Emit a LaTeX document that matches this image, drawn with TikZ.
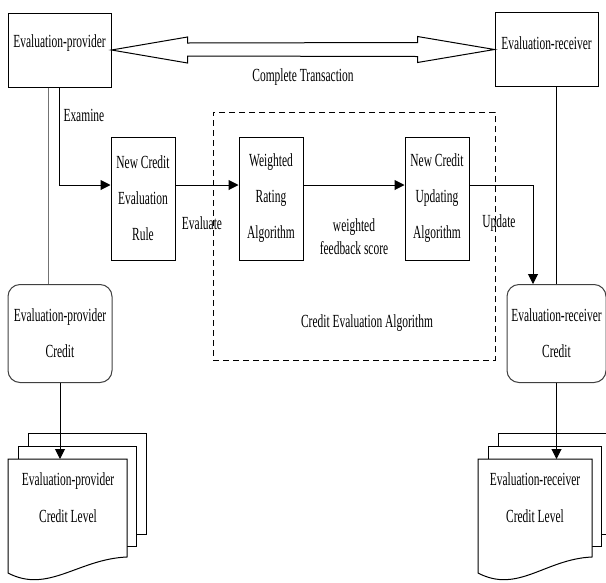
\documentclass[tikz,border=0pt]{standalone}
\usepackage{fontspec}
\setmainfont{Liberation Serif}[FakeStretch=0.62]
\usetikzlibrary{arrows.meta,positioning,calc}

% stacked pages: #1,#2 = top left corner of the front page, #3 = its width
\newcommand{\docstack}[3]{%
  \draw[fill=white] (#1+20,#2-26) rectangle ++(#3-1,101);
  \draw[fill=white] (#1+10,#2-13) rectangle ++(#3-1,100);
  \draw[fill=white] (#1,#2) -- ++(#3,0) -- ++(0,98)
    .. controls (#1+0.59*#3,#2+100) and (#1+40,#2+135) .. (#1,#2+114) -- cycle;
}

\begin{document}
\begin{tikzpicture}[x=1pt, y=-1pt, line width=1pt,
  font=\fontsize{18.5}{36}\selectfont,
  >={Triangle[length=10pt,width=10pt]},
  box/.style={draw, align=center, inner sep=0pt, minimum width=64pt, minimum height=123pt},
  party/.style={draw, inner sep=0pt, minimum width=103pt, minimum height=74pt},
  cred/.style={draw=black!75, rounded corners=12pt, align=center, inner sep=0pt, minimum height=98pt},
  lab/.style={inner sep=1pt, align=center},
  toptext/.style={label={[anchor=center, yshift=-31pt]north:#1}},
]
  \useasboundingbox (0,0) rectangle (606,582);

  \node[party, toptext=Evaluation-provider] (prov) at (59.5,50) {};
  \node[party, toptext=Evaluation-receiver] (rcv) at (546.5,49.5) {};

  % two-way transaction arrow
  \draw (prov.east) -- ++(76,-13) -- ++(0,6) -- ($(rcv.west)+(-77,-7)$) -- ++(0,-6)
    -- (rcv.west) -- ++(-77,13) -- ++(0,-6) -- ($(prov.east)+(76,6)$) -- ++(0,7) -- cycle;
  \node[lab] (trans) at (303,77) {Complete Transaction};

  \node[draw, dash pattern=on 6pt off 4pt, inner sep=0pt,
        minimum width=282pt, minimum height=248pt] (cea) at (354,236) {};
  \node[lab] (ceatext) at (367,323) {Credit Evaluation Algorithm};

  \node[box] (rule) at (143,198.5) {New Credit\\Evaluation\\Rule};
  \node[box] (wra) at (271,198.5) {Weighted\\Rating\\Algorithm};
  \node[box] (upd) at (437,198.5) {New Credit\\Updating\\Algorithm};

  \node[cred, minimum width=104pt] (pcred) at (60,333.5) {Evaluation-provider\\Credit};
  \node[cred, minimum width=99pt] (rcred) at (556.5,333.5) {Evaluation-receiver\\Credit};

  \docstack{8}{459}{119}
  \docstack{478}{459}{114}
  \node[lab, font=\fontsize{18.5}{37}\selectfont] (pdoc) at (68,497.5) {Evaluation-provider\\Credit Level};
  \node[lab, font=\fontsize{18.5}{37}\selectfont] (rdoc) at (535,497.5) {Evaluation-receiver\\Credit Level};

  \coordinate (mid) at (0,185);
  \coordinate (doctop) at (0,459);

  \draw[->] (prov.south) |- (rule.west |- mid);
  \node[lab, anchor=west] (exam) at (62,115) {Examine};
  \draw[->] (rule.east |- mid) -- (wra.west |- mid);
  \node[lab] (evl) at (202,223) {Evaluate};
  \draw[->] (wra.east |- mid) -- (upd.west |- mid);
  \node[lab, font=\fontsize{18.5}{23}\selectfont] (wfs) at (354,237) {weighted\\feedback score};
  \draw[->] (upd.east |- mid) -| ([xshift=-23.5pt]rcred.north);
  \node[lab] (updl) at (499,223) {Update};

  \draw[black!55] ([xshift=-11.5pt]prov.south) -- ([xshift=-12pt]pcred.north);
  \draw (rcred.north |- rcv.south) -- (rcred.north);

  \draw[->] (pcred.south) -- (pcred.south |- doctop);
  \draw[->] (rcred.south) -- (rcred.south |- doctop);
\end{tikzpicture}
\end{document}
